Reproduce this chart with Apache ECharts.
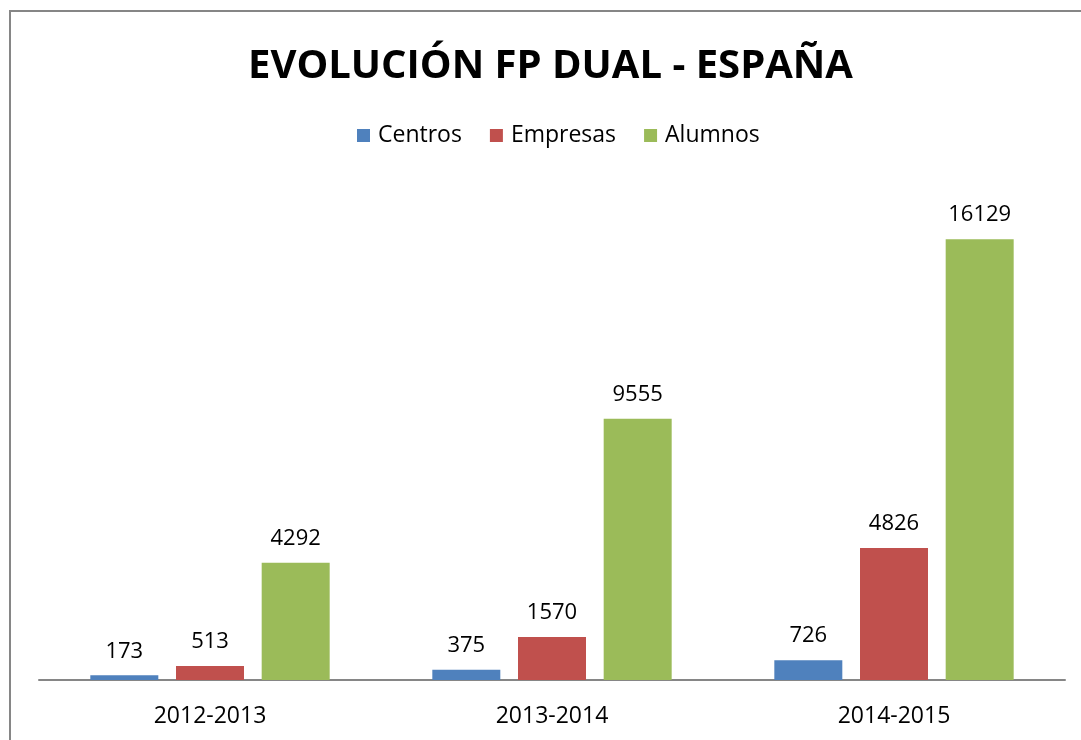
<!DOCTYPE html>
<html>
<head>
<meta charset="utf-8">
<script src="https://cdn.jsdelivr.net/npm/echarts@6/dist/echarts.min.js"></script>
<style>
  html, body { margin: 0; padding: 0; background: #fff; }
  #chart { width: 1081px; height: 740px; }
</style>
</head>
<body>
<div id="chart"></div>
<script>
// datos
const categories = ["2012-2013", "2013-2014", "2014-2015"];
const centros = [173, 375, 726];
const empresas = [513, 1570, 4826];
const alumnos = [4292, 9555, 16129];

const chartDom = document.getElementById("chart");
const myChart = echarts.init(chartDom);

const font = "'Open Sans', sans-serif";

const labelStyle = {
  show: true,
  position: "top",
  distance: 13,
  fontFamily: font,
  fontSize: 22,
  color: "#000",
};

const option = {
  animation: false,
  title: {
    text: "EVOLUCIÓN FP DUAL - ESPAÑA",
    left: 248,
    top: 47,
    padding: 0,
    textStyle: { fontFamily: font, fontSize: 40, fontWeight: "bold", color: "#000" },
  },
  legend: {
    top: 119,
    left: 352,
    itemWidth: 13,
    itemHeight: 13,
    itemGap: 28,
    icon: "rect",
    textStyle: { fontFamily: font, fontSize: 23, color: "#000", padding: [0, 0, 0, 3] },
  },
  graphic: [
    {
      type: "polyline",
      shape: { points: [[10, 740], [10, 11], [1081, 11]] },
      style: { stroke: "#868686", lineWidth: 2, fill: null },
    },
  ],
  grid: { left: 39, right: 16, top: 188, bottom: 60 },
  xAxis: {
    type: "category",
    data: categories,
    axisTick: { show: false },
    axisLine: { lineStyle: { color: "#868686", width: 2 } },
    axisLabel: { fontFamily: font, fontSize: 23, color: "#000", margin: 25 },
  },
  yAxis: {
    type: "value",
    min: 0,
    max: 18000,
    show: false,
    splitLine: { show: false },
  },
  series: [
    { name: "Centros", type: "bar", data: centros, barWidth: 68, barGap: "26%", itemStyle: { color: "#4F81BD" }, label: labelStyle },
    { name: "Empresas", type: "bar", data: empresas, barWidth: 68, barGap: "26%", itemStyle: { color: "#C0504D" }, label: labelStyle },
    { name: "Alumnos", type: "bar", data: alumnos, barWidth: 68, barGap: "26%", itemStyle: { color: "#9BBB59" }, label: labelStyle },
  ],
};

option && myChart.setOption(option);
</script>
</body>
</html>
